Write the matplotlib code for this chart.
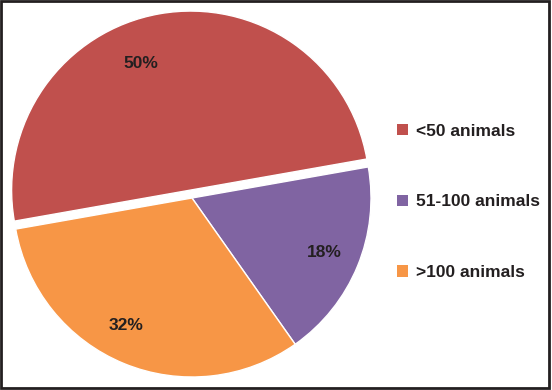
import matplotlib.pyplot as plt
import numpy as np
from matplotlib.patches import Patch, Rectangle

# данные
labels = ['<50 animals', '51-100 animals', '>100 animals']
values = [50, 18, 32]
colors = ['#C0504D', '#8064A2', '#F79646']
explode = [0.045, 0, 0]
label_shift = [11, 0, -5]      # сдвиг подписей по углу, градусы
label_scale = [0.95, 1, 1]     # и по радиусу

plt.rcParams['font.family'] = ['Liberation Sans', 'DejaVu Sans']
txt = '#231F20'

fig = plt.figure(figsize=(5.52, 3.9), dpi=100)
ax = fig.add_axes([0, 0, 1, 1])

wedges, texts, autotexts = ax.pie(values, colors=colors, explode=explode,
                                  startangle=190, counterclock=False,
                                  radius=1.0, pctdistance=0.8,
                                  autopct='%d%%',
                                  wedgeprops=dict(edgecolor='white', linewidth=1),
                                  textprops=dict(fontsize=12.5, fontweight='bold', color=txt))

# подвинуть подписи
for t, d, k in zip(autotexts, label_shift, label_scale):
    x, y = t.get_position()
    a = np.deg2rad(d)
    t.set_position((k * (x * np.cos(a) - y * np.sin(a)), k * (x * np.sin(a) + y * np.cos(a))))

# центр пирога в пикселях (192, 198), радиус 179 px
r = 179.0
ax.set_aspect('auto')
ax.set_xlim(-192 / r, (552 - 192) / r)
ax.set_ylim(-(390 - 198) / r, 198 / r)
ax.axis('off')

handles = [Patch(facecolor=c, edgecolor='none') for c in colors]
fig.legend(handles, labels, loc='center left', bbox_to_anchor=(397 / 552, 1 - 202 / 390),
           frameon=False, borderpad=0, borderaxespad=0, handlelength=0.62, handleheight=0.62,
           handletextpad=0.45, labelspacing=3.2,
           prop=dict(family='Liberation Sans', size=12.5, weight='bold'), labelcolor=txt)

fig.patches.append(Rectangle((0.002, 0.004), 0.993, 0.993, transform=fig.transFigure,
                             fill=False, edgecolor='#231F20', linewidth=2))

fig.savefig('out.png', dpi=100)
